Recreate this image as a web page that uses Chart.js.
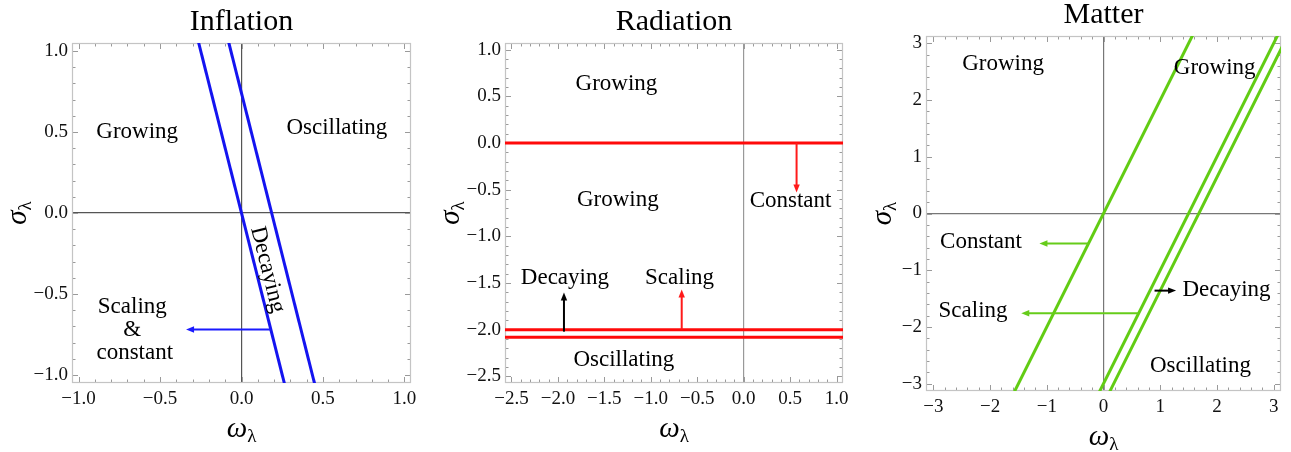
<!DOCTYPE html>
<html>
<head>
<meta charset="utf-8">
<script src="https://cdn.jsdelivr.net/npm/chart.js@4"></script>
<style>
  html, body { margin: 0; padding: 0; background: #fff; }
  #wrap { position: relative; width: 1291px; height: 452px; overflow: hidden; }
  canvas { position: absolute; top: 0; }
</style>
</head>
<body>
<div id="wrap">
  <canvas id="cInflation" width="430" height="452" style="left:0px"></canvas>
  <canvas id="cRadiation" width="430" height="452" style="left:430px"></canvas>
  <canvas id="cMatter" width="431" height="452" style="left:860px"></canvas>
</div>
<script>
// ---------------- data ----------------
// Inflation
const inflationTicks = [-1.0, -0.5, 0.0, 0.5, 1.0];
const inflationSigmaEnds = [-1.1, 1.1];
const inflationOmegaLeft = [0.275, -0.275];
const inflationOmegaRight = [0.46, -0.09];
const inflationLabels = [
  { text: 'Growing', x: -0.64, y: 0.5 },
  { text: 'Oscillating', x: 0.585, y: 0.525 },
  { text: 'Scaling', x: -0.67, y: -0.58 },
  { text: '&', x: -0.67, y: -0.72 },
  { text: 'constant', x: -0.655, y: -0.865 },
  { text: 'Decaying', x: 0.16, y: -0.35, angle: 76 }
];
const inflationArrows = [
  { from: [0.18, -0.72], to: [-0.34, -0.72], color: '#1a1aff' }
];

// Radiation
const radiationTicks = [-2.5, -2.0, -1.5, -1.0, -0.5, 0.0, 0.5, 1.0];
const radiationOmegaEnds = [-2.6, 1.1];
const radiationSigmaLevels = [0.0, -2.0, -2.08];
const radiationLabels = [
  { text: 'Growing', x: -1.37, y: 0.63 },
  { text: 'Growing', x: -1.355, y: -0.61 },
  { text: 'Constant', x: 0.505, y: -0.62 },
  { text: 'Decaying', x: -1.925, y: -1.45 },
  { text: 'Scaling', x: -0.69, y: -1.45 },
  { text: 'Oscillating', x: -1.29, y: -2.32 }
];
const radiationArrows = [
  { from: [0.57, 0.0], to: [0.57, -0.53], color: '#ff1a1a' },
  { from: [-1.935, -2.02], to: [-1.935, -1.6], color: '#000000' },
  { from: [-0.667, -2.0], to: [-0.667, -1.57], color: '#ff1a1a' }
];

// Matter
const matterTicks = [-3, -2, -1, 0, 1, 2, 3];
const matterSigmaEnds = [-3.2, 3.2];
const matterOmegaA = [-1.6, 1.6];
const matterOmegaB = [-0.1, 3.1];
const matterOmegaC = [0.08, 3.28];
const matterLabels = [
  { text: 'Growing', x: -1.77, y: 2.63 },
  { text: 'Growing', x: 1.96, y: 2.56 },
  { text: 'Constant', x: -2.16, y: -0.51 },
  { text: 'Scaling', x: -2.3, y: -1.71 },
  { text: 'Decaying', x: 2.17, y: -1.34 },
  { text: 'Oscillating', x: 1.71, y: -2.69 }
];
const matterArrows = [
  { from: [-0.265, -0.53], to: [-1.13, -0.53], color: '#66cc1a' },
  { from: [0.615, -1.76], to: [-1.45, -1.76], color: '#66cc1a' },
  { from: [0.9, -1.36], to: [1.28, -1.36], color: '#000000' }
];

// ---------------- helpers ----------------
const SERIF = '"Liberation Serif", "DejaVu Serif", serif';

function pts(xs, ys) {
  return xs.map((x, i) => ({ x: x, y: ys[i] }));
}

function fmt(decimals) {
  return v => {
    const s = Math.abs(v).toFixed(decimals);
    return v < -1e-9 ? '\u2212' + s : s;
  };
}

// draws a symbol with a lambda subscript, centred on (0,0)
function symbolWithLambda(ctx, sym) {
  ctx.textAlign = 'left';
  ctx.textBaseline = 'alphabetic';
  ctx.font = 'italic 29px ' + SERIF;
  const w1 = ctx.measureText(sym).width;
  ctx.font = '19px ' + SERIF;
  const w2 = ctx.measureText('\u03bb').width;
  const sx = -(w1 + w2) / 2;
  ctx.font = 'italic 29px ' + SERIF;
  ctx.fillText(sym, sx, 8);
  ctx.font = '19px ' + SERIF;
  ctx.fillText('\u03bb', sx + w1, 13);
}

// frame, inner ticks, title, axis labels, region text and arrows
const decorPlugin = {
  id: 'decor',
  beforeDatasetsDraw(chart, args, opts) {
    const ctx = chart.ctx, a = chart.chartArea;
    const xs = chart.scales.x, ys = chart.scales.y;
    ctx.save();
    ctx.strokeStyle = '#9a9a9a';
    ctx.lineWidth = 1;
    const tickLoop = (scale, step, fn) => {
      const start = Math.ceil(scale.min / step - 1e-6);
      const end = Math.floor(scale.max / step + 1e-6);
      for (let k = start; k <= end; k++) {
        const v = k * step;
        const major = Math.abs(v / opts.major - Math.round(v / opts.major)) < 1e-6;
        fn(scale.getPixelForValue(v), major ? 6 : 3.5);
      }
    };
    ctx.beginPath();
    tickLoop(xs, opts.minor, (px, len) => {
      px = Math.round(px) + 0.5;
      ctx.moveTo(px, a.bottom); ctx.lineTo(px, a.bottom - len);
      ctx.moveTo(px, a.top); ctx.lineTo(px, a.top + len);
    });
    tickLoop(ys, opts.minor, (py, len) => {
      py = Math.round(py) + 0.5;
      ctx.moveTo(a.left, py); ctx.lineTo(a.left + len, py);
      ctx.moveTo(a.right, py); ctx.lineTo(a.right - len, py);
    });
    ctx.stroke();
    ctx.strokeStyle = '#c4c4c4';
    ctx.lineWidth = 1.2;
    ctx.strokeRect(a.left + 0.5, a.top + 0.5, a.right - a.left - 1, a.bottom - a.top - 1);
    ctx.restore();
  },
  afterDatasetsDraw(chart, args, opts) {
    const ctx = chart.ctx, a = chart.chartArea;
    const xs = chart.scales.x, ys = chart.scales.y;
    ctx.save();
    // arrows
    opts.arrows.forEach(ar => {
      const x0 = xs.getPixelForValue(ar.from[0]), y0 = ys.getPixelForValue(ar.from[1]);
      const x1 = xs.getPixelForValue(ar.to[0]), y1 = ys.getPixelForValue(ar.to[1]);
      const ang = Math.atan2(y1 - y0, x1 - x0);
      const hl = 8, hw = 3.2;
      ctx.strokeStyle = ar.color;
      ctx.fillStyle = ar.color;
      ctx.lineWidth = 2;
      ctx.beginPath();
      ctx.moveTo(x0, y0);
      ctx.lineTo(x1 - Math.cos(ang) * hl * 0.8, y1 - Math.sin(ang) * hl * 0.8);
      ctx.stroke();
      ctx.beginPath();
      ctx.moveTo(x1, y1);
      ctx.lineTo(x1 - Math.cos(ang) * hl - Math.sin(ang) * hw, y1 - Math.sin(ang) * hl + Math.cos(ang) * hw);
      ctx.lineTo(x1 - Math.cos(ang) * hl + Math.sin(ang) * hw, y1 - Math.sin(ang) * hl - Math.cos(ang) * hw);
      ctx.closePath();
      ctx.fill();
    });
    // region labels
    ctx.fillStyle = '#000';
    ctx.font = '23px ' + SERIF;
    ctx.textAlign = 'center';
    ctx.textBaseline = 'middle';
    opts.labels.forEach(l => {
      const px = xs.getPixelForValue(l.x), py = ys.getPixelForValue(l.y);
      ctx.save();
      ctx.translate(px, py);
      if (l.angle) ctx.rotate(l.angle * Math.PI / 180);
      ctx.fillText(l.text, 0, 0);
      ctx.restore();
    });
    // title
    ctx.font = '30px ' + SERIF;
    ctx.fillText(opts.title, (a.left + a.right) / 2, a.top - 21);
    // x axis label
    ctx.save();
    ctx.translate((a.left + a.right) / 2, a.bottom + 46);
    symbolWithLambda(ctx, '\u03c9');
    ctx.restore();
    // y axis label, rotated
    ctx.save();
    ctx.translate(a.left - opts.yLabelGap, (a.top + a.bottom) / 2);
    ctx.rotate(-Math.PI / 2);
    symbolWithLambda(ctx, '\u03c3');
    ctx.restore();
    ctx.restore();
  }
};

function makePanel(id, cfg) {
  const canvas = document.getElementById(id);
  const W = canvas.width, H = canvas.height;
  const zeroGrid = {
    drawTicks: false,
    color: c => (c.tick && Math.abs(c.tick.value) < 1e-9 ? cfg.zeroColor : 'rgba(0,0,0,0)'),
    lineWidth: 1.2
  };
  const tickFont = { family: SERIF, size: 19 };
  return new Chart(canvas, {
    type: 'scatter',
    data: {
      datasets: cfg.series.map(s => ({
        data: s,
        showLine: true,
        borderColor: cfg.color,
        borderWidth: 3,
        pointRadius: 0,
        pointHoverRadius: 0,
        fill: false
      }))
    },
    options: {
      responsive: false,
      animation: false,
      events: [],
      layout: { padding: { top: cfg.area.top, right: W - cfg.area.right, left: 0, bottom: 0 } },
      plugins: {
        legend: { display: false },
        tooltip: { enabled: false },
        decor: {
          title: cfg.title,
          labels: cfg.labels,
          arrows: cfg.arrows,
          major: cfg.major,
          minor: cfg.minor,
          yLabelGap: cfg.yLabelGap
        }
      },
      scales: {
        x: {
          type: 'linear',
          min: cfg.xRange[0],
          max: cfg.xRange[1],
          grid: zeroGrid,
          border: { display: false },
          afterBuildTicks: s => { s.ticks = cfg.ticksX.map(v => ({ value: v })); },
          afterFit: s => { s.height = H - cfg.area.bottom; },
          ticks: { font: tickFont, color: '#111', padding: 5, maxRotation: 0, autoSkip: false, callback: cfg.fmt }
        },
        y: {
          type: 'linear',
          min: cfg.yRange[0],
          max: cfg.yRange[1],
          grid: zeroGrid,
          border: { display: false },
          afterBuildTicks: s => { s.ticks = cfg.ticksY.map(v => ({ value: v })); },
          afterFit: s => { s.width = cfg.area.left; },
          ticks: { font: tickFont, color: '#111', padding: 4, autoSkip: false, callback: cfg.fmt }
        }
      }
    },
    plugins: [decorPlugin]
  });
}

makePanel('cInflation', {
  title: 'Inflation',
  area: { left: 72, right: 411, top: 43, bottom: 383 },
  xRange: [-1.04, 1.04], yRange: [-1.05, 1.05],
  ticksX: inflationTicks, ticksY: inflationTicks,
  major: 0.5, minor: 0.1, fmt: fmt(1),
  color: '#1414f0', zeroColor: '#555',
  series: [pts(inflationOmegaLeft, inflationSigmaEnds), pts(inflationOmegaRight, inflationSigmaEnds)],
  labels: inflationLabels, arrows: inflationArrows, yLabelGap: 54
});

makePanel('cRadiation', {
  title: 'Radiation',
  area: { left: 75, right: 413, top: 43, bottom: 383 },
  xRange: [-2.57, 1.07], yRange: [-2.57, 1.07],
  ticksX: radiationTicks, ticksY: radiationTicks,
  major: 0.5, minor: 0.1, fmt: fmt(1),
  color: '#ff0a0a', zeroColor: '#999',
  series: radiationSigmaLevels.map(s => pts(radiationOmegaEnds, radiationOmegaEnds.map(() => s))),
  labels: radiationLabels, arrows: radiationArrows, yLabelGap: 54
});

makePanel('cMatter', {
  title: 'Matter',
  area: { left: 66, right: 421, top: 36, bottom: 391 },
  xRange: [-3.13, 3.13], yRange: [-3.13, 3.13],
  ticksX: matterTicks, ticksY: matterTicks,
  major: 1, minor: 0.2, fmt: fmt(0),
  color: '#62cc14', zeroColor: '#777',
  series: [pts(matterOmegaA, matterSigmaEnds), pts(matterOmegaB, matterSigmaEnds), pts(matterOmegaC, matterSigmaEnds)],
  labels: matterLabels, arrows: matterArrows, yLabelGap: 43
});
</script>
</body>
</html>
